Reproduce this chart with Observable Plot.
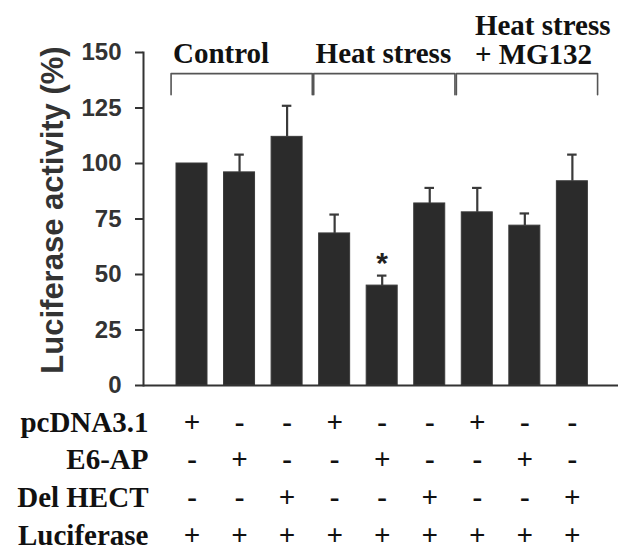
<!DOCTYPE html>
<html>
<head>
<meta charset="utf-8">
<script src="https://cdn.jsdelivr.net/npm/d3@7"></script>
<script src="https://cdn.jsdelivr.net/npm/@observablehq/plot@0.6"></script>
<style>
  html, body { margin: 0; padding: 0; background: #fff; }
  #chart svg { display: block; }
</style>
</head>
<body>
<div id="chart"></div>
<script>
// ---- data ----
const barIndex   = [1, 2, 3, 4, 5, 6, 7, 8, 9];
const activity   = [100, 96, 112, 68.5, 45, 82, 78, 72, 92];
const errorTop   = [100, 104, 126, 77, 49.5, 89, 89, 77.5, 104];
const pcDNA      = ["+", "-", "-", "+", "-", "-", "+", "-", "-"];
const e6ap       = ["-", "+", "-", "-", "+", "-", "-", "+", "-"];
const delHECT    = ["-", "-", "+", "-", "-", "+", "-", "-", "+"];
const luciferase = ["+", "+", "+", "+", "+", "+", "+", "+", "+"];
const rowLabels  = ["pcDNA3.1", "E6-AP", "Del HECT", "Luciferase"];
const groupLabels = ["Control", "Heat stress", "Heat stress\n+ MG132"];
const groupFirst = [1, 4, 7];
const groupLast  = [3, 6, 9];
const significant = [5];
const yTicks = [0, 25, 50, 75, 100, 125, 150];
const yLabel = "Luciferase activity (%)";

// ---- derived tables ----
const rows = [pcDNA, e6ap, delHECT, luciferase];
const data = barIndex.map((i, k) => ({i, value: activity[k], err: errorTop[k], sig: significant.includes(i)}));
const errData = data.filter(d => d.err > d.value);
const groups = groupLabels.map((label, k) => ({label, first: groupFirst[k], last: groupLast[k]}));

const bracketLow = 131, bracketHigh = 140.5;
const bracketPts = groups.flatMap((g, k) => {
  const a = g.first - 0.44, b = g.last + 0.53;
  return [
    {k, x: a, y: bracketLow}, {k, x: a, y: bracketHigh},
    {k, x: b, y: bracketHigh}, {k, x: b, y: bracketLow}
  ];
});

const serif = "'Liberation Serif', 'Times New Roman', serif";
const sans = "'Liberation Sans', Arial, sans-serif";
const ink = "#2b2b2b";

const tableMarks = rows.flatMap((vals, r) => [
  Plot.text(barIndex, {
    x: d => d, text: (d, k) => vals[k],
    frameAnchor: "bottom", lineAnchor: "bottom", dy: 46 + 37.8 * r,
    fontFamily: serif, fontWeight: "bold", fontSize: 29, fill: "#111"
  }),
  Plot.text([rowLabels[r]], {
    text: d => d, frameAnchor: "bottom-left", textAnchor: "end", lineAnchor: "bottom",
    dx: 5, dy: 46 + 37.8 * r,
    fontFamily: serif, fontWeight: "bold", fontSize: 29, fill: "#111"
  })
]);

const chart = Plot.plot({
  width: 618,
  height: 551,
  marginLeft: 143,
  marginRight: 0,
  marginTop: 52,
  marginBottom: 166,
  style: {color: "#333", background: "#fff", overflow: "visible"},
  x: {domain: [-0.02, 9.97], axis: null},
  y: {domain: [0, 150]},
  marks: [
    Plot.rect(data, {
      x1: d => d.i - 0.326, x2: d => d.i + 0.326, y1: 0, y2: "value",
      fill: ink, stroke: "#3a3a3a", strokeWidth: 1
    }),
    Plot.ruleX(errData, {x: "i", y1: "value", y2: "err", stroke: "#3a3a3a", strokeWidth: 2.2}),
    Plot.ruleY(errData, {y: "err", x1: d => d.i - 0.1, x2: d => d.i + 0.1, stroke: "#3a3a3a", strokeWidth: 2.2}),
    Plot.text(data.filter(d => d.sig), {
      x: "i", y: "err", text: () => "*", dy: -12,
      fontFamily: sans, fontWeight: "bold", fontSize: 30, fill: "#222"
    }),
    Plot.axisY({
      ticks: yTicks, tickSize: 8, tickPadding: 14, label: null,
      fontSize: 24, fontWeight: "bold", fontFamily: sans, strokeWidth: 2
    }),
    Plot.frame({anchor: "left", stroke: "#333", strokeWidth: 2}),
    Plot.ruleY([0], {stroke: "#333", strokeWidth: 2}),
    Plot.text([yLabel], {
      text: d => d, frameAnchor: "left", textAnchor: "middle", rotate: -90, dx: -90, dy: -9,
      fontFamily: sans, fontWeight: "bold", fontSize: 31, fill: "#333"
    }),
    Plot.line(bracketPts, {x: "x", y: "y", z: "k", stroke: "#555", strokeWidth: 1.6}),
    Plot.text(groups.filter(g => !g.label.includes("\n")), {
      x: d => d.first - 0.4, text: "label", frameAnchor: "top", textAnchor: "start",
      lineAnchor: "bottom", dy: 10,
      fontFamily: serif, fontWeight: "bold", fontSize: 29, fill: "#111"
    }),
    Plot.text(groups.filter(g => g.label.includes("\n")), {
      x: d => d.first - 0.05, text: "label", frameAnchor: "top", textAnchor: "start",
      lineAnchor: "bottom", dy: 11, lineHeight: 1.0,
      fontFamily: serif, fontWeight: "bold", fontSize: 29, fill: "#111"
    }),
    ...tableMarks
  ]
});
document.getElementById("chart").appendChild(chart);
</script>
</body>
</html>
